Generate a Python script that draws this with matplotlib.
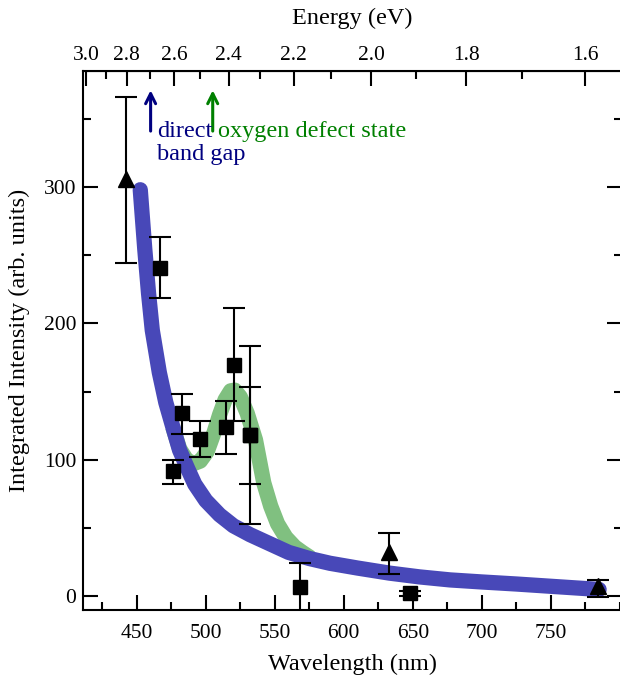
import numpy as np
import matplotlib
matplotlib.use("Agg")
import matplotlib.pyplot as plt
from matplotlib.ticker import MultipleLocator, FixedLocator

plt.rcParams['font.family'] = ['Liberation Serif', 'DejaVu Serif']

# -------------------------
# DATA
# -------------------------
# squares: wavelength (nm), intensity, lower / upper error bar ends
sq_x = [466.5, 476, 483, 496, 514.5, 520.5, 532, 532, 568, 648]
sq_y = [240.5, 91.5, 134, 115.5, 124, 169.5, 118, 118, 6.5, 2]
sq_lo = [218.5, 82, 119, 102, 104.5, 128.5, 53, 82, -15, 0]
sq_hi = [263.5, 100, 148, 128.5, 143, 211.5, 183.5, 153, 24.5, 4]

# triangles
tri_x = [442.5, 633, 784.5]
tri_y = [306, 32.5, 7]
tri_lo = [244, 16.5, -0.5]
tri_hi = [366, 46, 11.5]

# band-gap fit (blue)
gap_x = [452.5, 455.8, 458.5, 461.2, 466.3, 471, 476.1, 481, 487.3, 492,
         500, 510, 520, 532, 546, 560, 575, 590, 610, 633, 655, 677, 700,
         725, 755, 785]
gap_y = [298, 254, 222, 195, 164, 142, 124, 107, 92.4, 82,
         70, 59.5, 51.5, 45, 38.5, 32, 27.5, 24, 20.5, 16.8, 14, 11.8, 10.3,
         8.8, 6.8, 4.8]

# band gap + oxygen defect fit (green)
def_x = [476, 481, 486, 491, 496, 501, 506, 510, 514, 518, 521, 525, 530,
         536, 542, 547, 552, 558, 564.5, 570, 576]
def_y = [124, 108, 100, 97, 99, 106, 120, 133, 144, 150.5, 151, 146, 134,
         114.5, 83, 66, 53, 43, 36, 32, 28]

energy_major = [3.0, 2.8, 2.6, 2.4, 2.2, 2.0, 1.8, 1.6]
energy_minor = [2.9, 2.7, 2.5, 2.3, 2.1, 1.9, 1.7]

# -------------------------
# PLOT
# -------------------------
fig = plt.figure(figsize=(6.2, 6.79), dpi=100)
ax = fig.add_axes([83 / 620, 1 - 609.5 / 679, 539 / 620, 538.5 / 679])

ax.plot(def_x, def_y, color='#80c080', lw=11, solid_capstyle='butt',
        solid_joinstyle='round', zorder=1)
ax.plot(gap_x, gap_y, color='#4848b8', lw=11, solid_capstyle='round',
        solid_joinstyle='round', zorder=2)

sq_y_arr = np.array(sq_y)
ax.errorbar(sq_x, sq_y, yerr=[sq_y_arr - sq_lo, np.array(sq_hi) - sq_y_arr],
            fmt='s', color='black', ms=10, capsize=8, elinewidth=1.5,
            capthick=1.5, zorder=3)
tri_y_arr = np.array(tri_y)
ax.errorbar(tri_x, tri_y, yerr=[tri_y_arr - tri_lo, np.array(tri_hi) - tri_y_arr],
            fmt='^', color='black', ms=11, capsize=8, elinewidth=1.5,
            capthick=1.5, zorder=3)

# annotations
ax.annotate('', xy=(460, 373), xytext=(460, 339),
            arrowprops=dict(arrowstyle='->', color='#000080', lw=2.2,
                            mutation_scale=18))
ax.annotate('', xy=(505, 373), xytext=(505, 339),
            arrowprops=dict(arrowstyle='->', color='#008000', lw=2.2,
                            mutation_scale=18))
ax.text(464.5, 337, 'direct', color='#000080', fontsize=17.5)
ax.text(464.5, 320, 'band gap', color='#000080', fontsize=17.5)
ax.text(508.5, 337, 'oxygen defect state', color='#008000', fontsize=17.5)

ax.set_xlim(411, 801.6)
ax.set_ylim(-9.9, 385.1)
ax.set_xticks([450, 500, 550, 600, 650, 700, 750])
ax.xaxis.set_minor_locator(MultipleLocator(25))
ax.yaxis.set_major_locator(MultipleLocator(100))
ax.yaxis.set_minor_locator(MultipleLocator(50))
ax.tick_params(which='both', direction='in', width=1.5, labelsize=15.5,
               top=False, right=True)
ax.tick_params(which='major', length=11)
ax.tick_params(which='minor', length=6)
ax.tick_params(axis='x', pad=10.5)
ax.tick_params(axis='y', pad=5)
for s in ax.spines.values():
    s.set_linewidth(1.5)

ax.set_xlabel('Wavelength (nm)', fontsize=17.5, labelpad=8)
ax.set_ylabel('Integrated Intensity (arb. units)', fontsize=17.5, labelpad=9.5)

# top energy axis
conv = lambda v: 1239.84 / np.clip(v, 1e-6, None)
top = ax.secondary_xaxis('top', functions=(conv, conv))
top.xaxis.set_major_locator(FixedLocator(energy_major))
top.xaxis.set_minor_locator(FixedLocator(energy_minor))
top.set_xticklabels(['%.1f' % e for e in energy_major])
top.tick_params(which='both', direction='in', width=1.5, labelsize=15.5, pad=4)
top.tick_params(which='major', length=11)
top.tick_params(which='minor', length=6)
top.set_xlabel('Energy (eV)', fontsize=17.5, labelpad=16)

fig.savefig('out.png', dpi=100)
